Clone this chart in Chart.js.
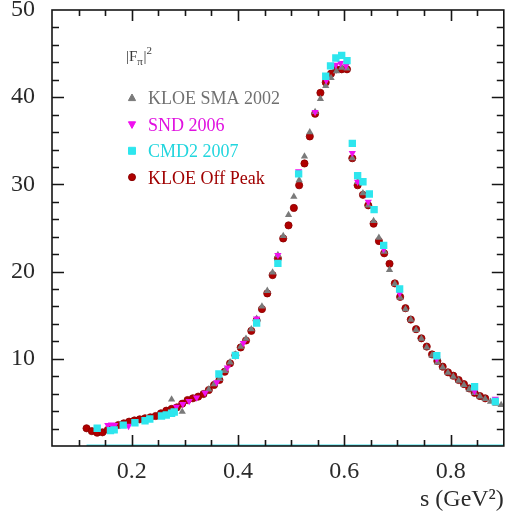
<!DOCTYPE html>
<html>
<head>
<meta charset="utf-8">
<script src="https://cdn.jsdelivr.net/npm/chart.js@4.4.0/dist/chart.umd.min.js"></script>
<style>
  html, body { margin: 0; padding: 0; background: #ffffff; }
  #wrap { position: relative; width: 509px; height: 521px; }
</style>
</head>
<body>
<div id="wrap"><canvas id="ff" width="509" height="521"></canvas></div>
<script>
// Pion form factor |F_pi|^2 versus s (GeV^2), four measurements.

// KLOE off-peak
const kloeOffS = [0.115, 0.125, 0.135, 0.145, 0.155, 0.165, 0.175, 0.185, 0.195, 0.205,
  0.215, 0.225, 0.235, 0.245, 0.255, 0.265, 0.275, 0.285, 0.295, 0.305,
  0.315, 0.325, 0.335, 0.345, 0.355, 0.365, 0.375, 0.385, 0.395, 0.405,
  0.415, 0.425, 0.435, 0.445, 0.455, 0.465, 0.475, 0.485, 0.495, 0.505,
  0.515, 0.525, 0.535, 0.545, 0.555, 0.565, 0.575, 0.585, 0.595, 0.605,
  0.615, 0.625, 0.635, 0.645, 0.655, 0.665, 0.675, 0.685, 0.695, 0.705,
  0.715, 0.725, 0.735, 0.745, 0.755, 0.765, 0.775, 0.785, 0.795, 0.805,
  0.815, 0.825, 0.835, 0.845, 0.855, 0.865];
const kloeOffF = [2.03, 1.70, 1.53, 1.57, 1.85, 2.15, 2.41, 2.60, 2.79, 2.93,
  3.06, 3.18, 3.29, 3.44, 3.75, 4.05, 4.25, 4.43, 4.85, 5.27,
  5.47, 5.66, 5.96, 6.42, 7.00, 7.57, 8.52, 9.48, 10.4, 11.3,
  12.1, 13.2, 14.4, 15.7, 17.5, 19.6, 21.5, 23.8, 25.3, 27.3,
  29.9, 32.4, 35.5, 38.1, 40.5, 41.7, 42.7, 43.2, 43.2, 43.2,
  33.0, 29.9, 28.8, 27.6, 25.5, 23.5, 22.1, 20.9, 18.65, 17.1,
  15.8, 14.5, 13.4, 12.35, 11.4, 10.5, 9.75, 9.1, 8.45, 8.06,
  7.57, 7.1, 6.6, 6.1, 5.73, 5.47];

// KLOE small-angle analysis 2002
const kloeSmaS = [0.275, 0.295, 0.345, 0.355, 0.365, 0.375, 0.385, 0.395, 0.405, 0.415,
  0.425, 0.435, 0.445, 0.455, 0.465, 0.475, 0.485, 0.495, 0.505, 0.515,
  0.525, 0.535, 0.545, 0.555, 0.565, 0.575, 0.585, 0.595, 0.605, 0.615,
  0.625, 0.635, 0.645, 0.655, 0.665, 0.675, 0.685, 0.695, 0.705, 0.715,
  0.725, 0.735, 0.745, 0.755, 0.765, 0.775, 0.785, 0.795, 0.805, 0.815,
  0.825, 0.835, 0.845, 0.855, 0.865, 0.875, 0.885, 0.895];
const kloeSmaF = [5.35, 3.93, 6.5, 7.1, 7.7, 8.6, 9.6, 10.5, 11.4, 12.3,
  13.4, 14.6, 16.0, 17.8, 19.9, 21.9, 24.1, 26.5, 28.6, 30.5,
  33.2, 36.0, 38.3, 39.8, 41.3, 42.2, 43.0, 43.4, 43.3, 33.0,
  30.3, 29.0, 27.6, 25.8, 23.9, 22.3, 20.2, 18.6, 17.0, 15.7,
  14.5, 13.3, 12.3, 11.3, 10.4, 9.6, 9.0, 8.4, 7.95, 7.5,
  7.0, 6.5, 6.1, 5.7, 5.4, 5.08, 4.85, 4.7];

// SND 2006
const sndS = [0.155, 0.162, 0.168, 0.194, 0.284, 0.296, 0.308, 0.322, 0.338, 0.360,
  0.380, 0.410, 0.435, 0.475, 0.514, 0.545, 0.566, 0.584, 0.593, 0.603,
  0.615, 0.625, 0.645, 0.674, 0.704, 0.774, 0.845, 0.884];
const sndF = [2.4, 2.45, 2.4, 2.3, 4.5, 4.8, 5.15, 5.55, 6.1, 7.3,
  9.0, 11.8, 14.6, 21.9, 31.5, 38.3, 41.9, 43.7, 43.9, 43.6,
  33.6, 30.3, 28.0, 22.6, 17.5, 10.0, 6.3, 5.4];

// CMD-2 2007
const cmd2S = [0.135, 0.160, 0.167, 0.184, 0.206, 0.225, 0.234, 0.256, 0.265, 0.275,
  0.280, 0.364, 0.395, 0.435, 0.475, 0.514, 0.565, 0.574, 0.584, 0.595,
  0.605, 0.615, 0.625, 0.635, 0.647, 0.656, 0.674, 0.704, 0.774, 0.845, 0.884];
const cmd2F = [2.03, 1.76, 1.85, 2.4, 2.67, 2.9, 3.1, 3.44, 3.55, 3.75,
  3.9, 8.26, 10.4, 14.1, 20.95, 31.2, 42.4, 43.6, 44.5, 44.8,
  44.2, 34.7, 31.0, 30.3, 28.9, 27.1, 23.0, 18.0, 10.35, 6.8, 5.1];

// CMD-2 systematic band, drawn along the s axis
const cmd2SystS = [0.115, 0.9];
const cmd2SystF = [0.08, 0.08];

// axis tick labels
const xTickValues = [0.2, 0.4, 0.6, 0.8];
const yTickValues = [10, 20, 30, 40, 50];

const pts = (xs, ys) => xs.map((s, i) => ({ x: s, y: ys[i] }));
const SERIF = '"Liberation Serif", "DejaVu Serif", serif';

// boxed frame with inward major/minor ticks on all four sides
const frameTicks = {
  id: 'frameTicks',
  afterDatasetsDraw(chart) {
    const { ctx, chartArea: a, scales: { x, y } } = chart;
    ctx.save();
    ctx.strokeStyle = '#161616';
    ctx.lineWidth = 1.6;
    ctx.strokeRect(a.left, a.top, a.right - a.left, a.bottom - a.top);
    ctx.beginPath();
    for (let k = 2; k <= 17; k++) {
      const px = Math.round(x.getPixelForValue(k * 0.05)) + 0.5;
      const len = (k % 4 === 0) ? 11 : 6;
      ctx.moveTo(px, a.bottom); ctx.lineTo(px, a.bottom - len);
      ctx.moveTo(px, a.top); ctx.lineTo(px, a.top + len);
    }
    for (let v = 2; v < 50; v += 2) {
      const py = Math.round(y.getPixelForValue(v)) + 0.5;
      const len = (v % 10 === 0) ? 12 : 7;
      ctx.moveTo(a.left, py); ctx.lineTo(a.left + len, py);
      ctx.moveTo(a.right, py); ctx.lineTo(a.right - len, py);
    }
    ctx.stroke();
    ctx.restore();
  }
};

function drawMarker(ctx, style, x, y, fill, stroke) {
  ctx.fillStyle = fill;
  ctx.strokeStyle = stroke;
  ctx.lineWidth = 1;
  ctx.beginPath();
  if (style === 'triangle') {
    ctx.moveTo(x, y - 4); ctx.lineTo(x + 3.6, y + 2.6); ctx.lineTo(x - 3.6, y + 2.6);
  } else if (style === 'triangleDown') {
    ctx.moveTo(x, y + 4); ctx.lineTo(x + 3.6, y - 2.6); ctx.lineTo(x - 3.6, y - 2.6);
  } else if (style === 'rect') {
    ctx.rect(x - 3.5, y - 3.5, 7, 7);
  } else {
    ctx.arc(x, y, 3.5, 0, Math.PI * 2);
  }
  ctx.closePath();
  ctx.fill();
  ctx.stroke();
}

// quantity label and the legend block inside the frame
const legendBlock = {
  id: 'legendBlock',
  afterDraw(chart) {
    const ctx = chart.ctx;
    ctx.save();
    ctx.textBaseline = 'alphabetic';
    ctx.textAlign = 'left';
    ctx.fillStyle = '#3a3a3a';
    let x = 126, y = 61;
    ctx.font = '15px ' + SERIF;
    ctx.fillText('|F', x, y); x += ctx.measureText('|F').width;
    ctx.font = '11px ' + SERIF;
    ctx.fillText('π', x, y + 4); x += ctx.measureText('π').width + 0.5;
    ctx.font = '15px ' + SERIF;
    ctx.fillText('|', x, y); x += ctx.measureText('|').width;
    ctx.font = '11px ' + SERIF;
    ctx.fillText('2', x, y - 7);

    const rows = chart.data.datasets.filter(d => d.legendStyle);
    rows.sort((p, q) => p.legendRow - q.legendRow);
    rows.forEach((d, i) => {
      const cy = 98 + i * 26.4;
      drawMarker(ctx, d.legendStyle, 132, cy, d.backgroundColor, d.borderColor);
      ctx.fillStyle = d.textColor;
      ctx.font = '18px ' + SERIF;
      ctx.fillText(d.label, 148, cy + 6.3);
    });
    ctx.restore();
  }
};

new Chart(document.getElementById('ff'), {
  type: 'scatter',
  data: {
    datasets: [
      {
        label: 'CMD2 2007', data: pts(cmd2S, cmd2F), order: 1,
        pointStyle: 'rect', pointRadius: 5.2, pointHoverRadius: 5.2,
        backgroundColor: '#2ee6ee', borderColor: '#2ee6ee', borderWidth: 0,
        legendStyle: 'rect', legendRow: 2, textColor: '#22d6de'
      },
      {
        label: 'SND 2006', data: pts(sndS, sndF), order: 2,
        pointStyle: 'triangle', rotation: 180, pointRadius: 4.2, pointHoverRadius: 4.2,
        backgroundColor: '#f010f0', borderColor: '#f010f0', borderWidth: 0,
        legendStyle: 'triangleDown', legendRow: 1, textColor: '#e010e0'
      },
      {
        label: 'KLOE SMA 2002', data: pts(kloeSmaS, kloeSmaF), order: 3,
        pointStyle: 'triangle', pointRadius: 4.2, pointHoverRadius: 4.2,
        backgroundColor: '#7a7a7a', borderColor: '#7a7a7a', borderWidth: 0,
        legendStyle: 'triangle', legendRow: 0, textColor: '#707070'
      },
      {
        label: 'KLOE Off Peak', data: pts(kloeOffS, kloeOffF), order: 4,
        pointStyle: 'circle', pointRadius: 3.6, pointHoverRadius: 3.6,
        backgroundColor: '#b00000', borderColor: '#8a0000', borderWidth: 0.8,
        legendStyle: 'circle', legendRow: 3, textColor: '#a00000'
      },
      {
        label: 'CMD2 syst.', data: pts(cmd2SystS, cmd2SystF), order: 5,
        showLine: true, pointRadius: 0, borderColor: '#40e0e8', borderWidth: 1.5
      }
    ]
  },
  options: {
    responsive: false,
    animation: false,
    events: [],
    layout: { padding: { left: 0, right: 1, top: 10, bottom: 0 } },
    plugins: { legend: { display: false }, tooltip: { enabled: false } },
    scales: {
      x: {
        type: 'linear', min: 0.05, max: 0.9,
        grid: { display: false, drawTicks: false },
        border: { display: false },
        afterBuildTicks: (s) => { s.ticks = xTickValues.map(v => ({ value: v })); },
        afterFit: (s) => { s.height = 75; s.paddingLeft = 0; s.paddingRight = 0; },
        ticks: {
          padding: 11, color: '#2a2a2a', maxRotation: 0,
          font: { family: SERIF, size: 24 },
          callback: (v) => Number(v).toFixed(1)
        },
        title: {
          display: true, text: 's (GeV²)', align: 'end', color: '#2a2a2a',
          font: { family: SERIF, size: 24 }, padding: { top: 0, bottom: 7 }
        }
      },
      y: {
        type: 'linear', min: 0, max: 50,
        grid: { display: false, drawTicks: false },
        border: { display: false },
        afterBuildTicks: (s) => { s.ticks = yTickValues.map(v => ({ value: v })); },
        afterFit: (s) => { s.width = 52; s.paddingTop = 0; s.paddingBottom = 0; },
        ticks: {
          padding: 17, color: '#2a2a2a',
          font: { family: SERIF, size: 24 },
          callback: (v) => String(v)
        }
      }
    }
  },
  plugins: [frameTicks, legendBlock]
});
</script>
</body>
</html>
